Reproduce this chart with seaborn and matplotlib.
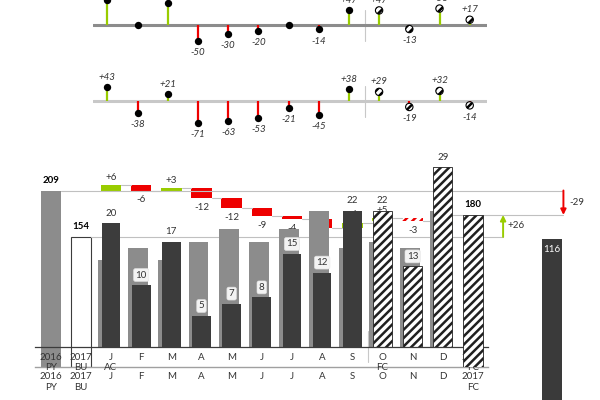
import numpy as np
import pandas as pd
import matplotlib
matplotlib.use("Agg")
import matplotlib.pyplot as plt
import seaborn as sns

# ---- values ----
months = ["J", "F", "M", "A", "M", "J", "J", "A", "S", "O", "N", "D"]
py_month = [14, 16, 14, 17, 19, 17, 19, 22, 16, 17, 16, 22]
ac_month = [20, 10, 17, 5, 7, 8, 15, 12, 22]      # J..S actual
fc_month = [22, 13, 29]                           # O..D forecast
py_total = 209
bu_total = 154
fc_total = 180
var_py = [6, -6, 3, -12, -12, -9, -4, -10, 6, 5, -3, 7]
dbu_pct = [82, 0, 70, -50, -30, -20, 0, -14, 47, 47, -13, 53, 17]
dpy_pct = [43, -38, 21, -71, -63, -53, -21, -45, 38, 29, -19, 32, -14]
delta_vs_py = -29
delta_vs_bu = 26
side_value = 116

tick_top = ["2016", "2017"] + months + ["2017"]
tick_sub_a = ["PY", "BU", "AC"] + [""] * 8 + ["FC", "", "", "FC"]
tick_sub_b = ["PY", "BU"] + [""] * 12 + ["FC"]

GREY = "#8c8c8c"
DARK = "#3c3c3c"
GREEN = "#99cc00"
RED = "#ee0000"
TXT = "#333333"
LINE = "#c0c0c0"

sns.set_theme(style="white")
plt.rcParams["font.family"] = ["Lato", "DejaVu Sans"]
plt.rcParams["hatch.linewidth"] = 1.8
FS = 7

W, H = 600, 400
fig = plt.figure(figsize=(6, 4), dpi=100)
fig.patch.set_facecolor("white")


def px_axes(x0, x1, ytop, ybot, z):
    ax = fig.add_axes([x0 / W, (H - ybot) / H, (x1 - x0) / W, (ybot - ytop) / H])
    ax.set_zorder(z)
    ax.patch.set_visible(False)
    for s in ax.spines.values():
        s.set_visible(False)
    ax.set_yticks([])
    return ax


# category position c -> pixel 50.7 + 30.16*c
XL = ((35 - 50.7) / 30.16, (590 - 50.7) / 30.16)
cats = np.arange(15)
mpos = np.arange(2, 14)

# ---------- totals / waterfall axes (B) ----------
ax_b = px_axes(35, 590, 140, 366.7, 1)
ax_b.set_xlim(*XL)
ax_b.set_ylim(0, (366.7 - 140) / 0.843)
ax_b.bar(0, py_total, width=0.66, color=GREY, linewidth=0)
ax_b.bar(1, bu_total, width=0.66, facecolor="white", edgecolor=DARK, linewidth=0.8)
for c, v in [(0, py_total), (1, bu_total)]:
    ax_b.annotate(str(v), (c, v), xytext=(0, 7.2), textcoords="offset points",
                  ha="center", va="center", fontsize=FS, fontweight="bold", color="black")

# reference lines
ax_b.plot([0.33, 17], [py_total, py_total], color=LINE, lw=0.8)
ax_b.plot([1.33, 15], [bu_total, bu_total], color=LINE, lw=0.8)
ax_b.plot([14.33, 17], [fc_total, fc_total], color=LINE, lw=0.8)

cum = py_total + np.concatenate([[0], np.cumsum(var_py)])
for i, (c, d) in enumerate(zip(mpos, var_py)):
    col = GREEN if d > 0 else RED
    if i >= 9:
        ax_b.bar(c, d, bottom=cum[i], width=0.68, facecolor="white", edgecolor=col,
                 hatch="////", linewidth=0)
    else:
        ax_b.bar(c, d, bottom=cum[i], width=0.68, color=col, linewidth=0)
    ax_b.plot([c + 0.34, c + 0.66], [cum[i + 1], cum[i + 1]], color=LINE, lw=0.8)
    if d > 0:
        ax_b.annotate(f"+{d}", (c, cum[i + 1]), xytext=(0, 5.5), textcoords="offset points",
                      ha="center", va="center", fontsize=FS, color=TXT)
    else:
        ax_b.annotate(f"{d}", (c, cum[i + 1]), xytext=(0, -6.8), textcoords="offset points",
                      ha="center", va="center", fontsize=FS, color=TXT)

arrow_kw = dict(arrowstyle="-|>", lw=1.4, mutation_scale=8, shrinkA=0, shrinkB=0)
ax_b.annotate("", xy=(17, fc_total), xytext=(17, py_total), arrowprops=dict(color=RED, **arrow_kw))
ax_b.annotate("", xy=(15, fc_total), xytext=(15, bu_total), arrowprops=dict(color=GREEN, **arrow_kw))
ax_b.annotate(f"{delta_vs_py}", (17, (py_total + fc_total) / 2), xytext=(4.5, 0),
              textcoords="offset points", ha="left", va="center", fontsize=FS, color=TXT)
ax_b.annotate(f"+{delta_vs_bu}", (15, (bu_total + fc_total) / 2), xytext=(3, 0),
              textcoords="offset points", ha="left", va="center", fontsize=FS, color=TXT)

ax_b.spines["bottom"].set_visible(True)
ax_b.spines["bottom"].set_color("#a0a0a0")
ax_b.spines["bottom"].set_linewidth(1.0)
ax_b.spines["bottom"].set_bounds(XL[0], 14.5)
ax_b.set_xticks(cats)
ax_b.set_xticklabels([f"{t}\n{s}" if s else t for t, s in zip(tick_top, tick_sub_b)])
ax_b.tick_params(axis="x", length=0, pad=4, labelsize=FS, labelcolor=TXT)

# ---------- monthly axes (A) ----------
ax_a = px_axes(35, 590, 140, 347, 2)
df_py = pd.DataFrame({"pos": mpos - 0.1, "value": py_month})
sns.barplot(data=df_py, x="pos", y="value", native_scale=True, width=0.66,
            color=GREY, saturation=1, edgecolor="none", linewidth=0, ax=ax_a)
df_ac = pd.DataFrame({"pos": mpos[:9], "value": ac_month})
sns.barplot(data=df_ac, x="pos", y="value", native_scale=True, width=0.62,
            color=DARK, saturation=1, edgecolor="none", linewidth=0, ax=ax_a)
ax_a.bar(mpos[9:], fc_month, width=0.64, facecolor="white", edgecolor="#202020",
         hatch="////", linewidth=0.6)
ax_a.set(xlabel="", ylabel="")
ax_a.set_xlim(*XL)
ax_a.set_ylim(0, (347 - 140) / 6.2)

for c, v, p in zip(mpos, ac_month + fc_month, py_month):
    box = dict(boxstyle="round,pad=0.2", fc="white", ec="#e0e0e0", lw=0.5, alpha=0.9) if v < p else None
    ax_a.annotate(str(v), (c, v), xytext=(0, 7.2), textcoords="offset points",
                  ha="center", va="center", fontsize=FS, color=TXT, bbox=box, zorder=5)

ax_a.plot([10.51, 10.51], [2.6, -2.4], color="#c8c8c8", lw=0.8, clip_on=False)
ax_a.spines["bottom"].set_visible(True)
ax_a.spines["bottom"].set_color(DARK)
ax_a.spines["bottom"].set_linewidth(0.9)
ax_a.spines["bottom"].set_bounds(XL[0], 14.5)
ax_a.set_xticks(cats)
ax_a.set_xticklabels([f"{t}\n{s}" if s else t for t, s in zip(tick_top, tick_sub_a)])
ax_a.tick_params(axis="x", length=0, pad=4, labelsize=FS, labelcolor=TXT)

# ---------- FC total bar on top (C) ----------
ax_c = px_axes(35, 590, 140, 366.7, 3)
ax_c.set_xlim(*XL)
ax_c.set_ylim(0, (366.7 - 140) / 0.843)
ax_c.bar(14, fc_total, width=0.68, facecolor="white", edgecolor="#202020", hatch="////", linewidth=0.6)
ax_c.annotate(str(fc_total), (14, fc_total), xytext=(0, 7.2), textcoords="offset points",
              ha="center", va="center", fontsize=FS, fontweight="bold", color="black")
ax_c.set_xticks([])

# ---------- side bar (D) ----------
ax_d = px_axes(541.7, 561.7, 239.3, 420, 3)
ax_d.set_xlim(-0.5, 0.5)
ax_d.set_ylim(0, side_value)
ax_d.bar(0, side_value, width=1.0, color="#3a3a3a", linewidth=0)
ax_d.annotate(str(side_value), (0, side_value), xytext=(0, -7.7), textcoords="offset points",
              ha="center", va="center", fontsize=FS, color="white")
ax_d.set_xticks([])

# ---------- lollipop axes ----------
LXL = ((93 - 107.3) / 30.2, (487 - 107.3) / 30.2)


def lollipop(ax, vals, line_color, line_w, sep):
    ax.set_xlim(*LXL)
    ax.axhline(0, color=line_color, lw=line_w, zorder=1)
    ax.plot([8.54, 8.54], sep, color="#c8c8c8", lw=0.8, zorder=0)
    k = np.arange(len(vals))
    for i, v in zip(k, vals):
        col = GREEN if v > 0 else RED
        ax.vlines(i, 0, v, color=col, lw=1.6, zorder=2)
        if v > 0:
            ax.annotate(f"+{v}", (i, v), xytext=(0, 7.2), textcoords="offset points",
                        ha="center", va="center", fontsize=FS, style="italic", color=TXT)
        elif v < 0:
            ax.annotate(f"{v}", (i, v), xytext=(0, -8.4), textcoords="offset points",
                        ha="center", va="center", fontsize=FS, style="italic", color=TXT)
    dots = pd.DataFrame({"k": k[:9], "v": vals[:9]})
    sns.scatterplot(data=dots, x="k", y="v", color="black", s=28, linewidth=0,
                    zorder=3, ax=ax, legend=False, clip_on=False)
    ax.scatter(k[9:], vals[9:], s=28, facecolor="white", edgecolor="black",
               hatch="////", linewidth=0.8, zorder=3, clip_on=False)
    ax.set(xlabel="", ylabel="")
    ax.set_xticks([])


ax_l1 = px_axes(93, 487, 0, 50, 4)
ax_l1.set_ylim(-80.6, 80.6)
lollipop(ax_l1, dbu_pct, "#8c8c8c", 2.2, [48, -52])

ax_l2 = px_axes(93, 487, 60, 140, 4)
ax_l2.set_ylim(-(140 - 101) / 0.314, (101 - 60) / 0.314)
lollipop(ax_l2, dpy_pct, "#c8c8c8", 2.2, [49, -50])

fig.savefig("out.png", dpi=100)
